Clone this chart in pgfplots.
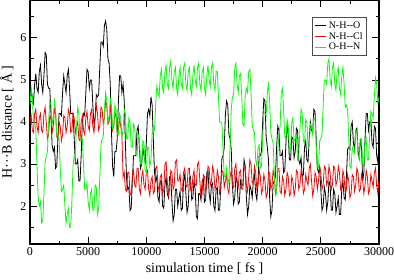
\documentclass[border=0pt]{standalone}
\usepackage{fontspec}
\setmainfont{Liberation Serif}
\usepackage{pgfplots}
\usepackage{pgfplotstable}
\pgfplotsset{compat=1.18}
\pgfplotstableread{
t b r g
0 4.3 4.0 4.4
100 4.75 4.15 4.8
200 4.6 3.8 4.6
300 4.45 3.75 4.0
400 4.9 4.2 4.0
500 5.15 4.3 3.8
600 4.8 3.9 3.0
700 4.7 3.75 2.2
800 5.2 4.1 2.0
900 5.35 4.2 2.1
1000 4.9 3.8 1.6
1100 4.7 3.75 1.65
1200 5.1 4.2 2.3
1300 5.65 4.35 3.05
1400 5.6 4.0 3.2
1500 4.9 3.6 3.3
1600 4.8 3.7 4.0
1700 4.8 4.15 4.5
1800 4.2 4.1 4.4
1900 3.45 3.75 3.95
2000 3.3 3.9 4.1
2100 3.4 4.3 4.5
2200 2.9 4.2 4.3
2300 2.95 3.65 3.7
2400 3.6 3.6 3.7
2500 4.2 4.0 3.6
2600 4.2 3.9 2.9
2700 4.15 3.55 2.35
2800 4.7 3.7 2.4
2900 5.1 4.15 2.5
3000 4.9 4.1 2.0
3100 4.7 3.75 1.6
3200 5.1 3.9 1.8
3300 5.25 4.3 1.95
3400 4.8 4.2 1.5
3500 4.2 3.75 1.5
3600 4.2 3.8 2.1
3700 4.2 4.2 2.95
3800 3.6 4.1 3.2
3900 3.0 3.75 3.25
4000 3.0 3.9 3.9
4100 3.1 4.0 4.35
4200 2.6 3.6 4.2
4300 2.6 3.55 3.6
4400 3.2 4.0 3.6
4500 4.0 4.15 3.6
4600 4.2 3.8 3.0
4700 4.15 3.7 2.4
4800 4.7 4.1 2.4
4900 5.25 4.25 2.55
5000 5.2 3.9 2.1
5100 4.8 3.8 1.9
5200 5.0 4.2 2.3
5300 5.0 4.3 2.4
5400 4.4 3.9 1.9
5500 3.95 3.75 1.9
5600 4.1 4.1 2.5
5700 4.65 4.4 2.45
5800 4.6 4.2 1.8
5900 4.65 3.8 1.95
6000 5.3 3.9 2.7
6100 5.9 4.35 3.45
6200 5.9 4.3 3.6
6300 5.8 3.95 3.65
6400 6.3 4.1 4.3
6500 6.4 4.5 4.7
6600 6.2 4.4 4.5
6700 5.5 3.95 4.0
6800 5.4 4.0 4.1
6900 4.9 4.35 4.55
7000 3.8 4.2 4.4
7100 2.95 3.8 3.85
7200 2.7 3.9 3.9
7300 3.3 4.25 4.4
7400 3.3 4.1 4.3
7500 3.6 3.7 3.7
7600 4.5 3.8 3.7
7700 5.1 4.1 4.2
7800 5.1 3.9 4.1
7900 4.7 3.7 3.65
8000 4.9 2.7 3.8
8100 4.5 2.8 4.3
8200 3.5 2.4 4.2
8300 2.65 2.35 3.6
8400 2.4 2.8 3.6
8500 2.45 2.8 4.1
8600 1.9 2.3 4.0
8700 1.95 2.25 3.4
8800 2.6 2.7 3.4
8900 3.2 2.85 3.95
9000 3.2 2.5 3.9
9100 3.2 2.45 3.25
9200 3.8 2.9 3.2
9300 3.9 2.9 3.7
9400 3.4 2.4 3.6
9500 2.9 2.3 3.0
9600 3.0 2.7 3.0
9700 3.4 2.85 3.55
9800 3.2 2.5 3.5
9900 3.05 2.4 2.85
10000 3.5 2.8 2.8
10100 4.2 2.85 3.4
10200 4.3 2.4 3.4
10300 4.15 2.25 2.95
10400 4.6 2.6 3.1
10500 4.4 2.7 3.75
10600 3.6 2.3 3.8
10700 2.8 2.35 3.8
10800 2.6 2.9 4.4
10900 2.7 2.95 4.85
11000 2.2 2.5 4.7
11100 2.1 2.35 4.6
11200 2.6 2.7 5.1
11300 2.6 2.75 5.25
11400 2.0 2.3 4.8
11500 1.95 2.4 4.7
11600 2.5 3.0 5.2
11700 2.7 3.05 5.35
11800 2.3 2.6 4.9
11900 2.2 2.25 4.8
12000 2.7 2.4 5.3
12100 2.7 2.85 5.45
12200 2.1 2.8 5.0
12300 1.65 2.4 4.8
12400 1.8 2.5 5.2
12500 2.4 3.05 5.3
12600 2.4 3.1 4.8
12700 2.0 2.6 4.65
12800 2.2 2.6 5.1
12900 2.35 2.75 5.3
13000 1.9 2.4 4.9
13100 1.95 2.35 4.8
13200 2.6 2.8 5.3
13300 2.75 2.9 5.4
13400 2.3 2.5 4.9
13500 1.85 2.45 4.75
13600 2.0 2.9 5.2
13700 2.65 2.9 5.3
13800 2.7 2.4 4.8
13900 2.15 2.3 4.65
14000 2.2 2.7 5.1
14100 2.6 2.85 5.35
14200 2.4 2.5 5.0
14300 1.75 2.5 4.85
14400 1.7 3.0 5.3
14500 2.3 3.05 5.4
14600 2.3 2.6 4.9
14700 2.15 2.2 4.75
14800 2.6 2.3 5.2
14900 2.65 2.75 5.3
15000 2.1 2.7 4.8
15100 2.15 2.35 4.65
15200 2.8 2.5 5.1
15300 2.85 2.95 5.35
15400 2.3 2.9 5.0
15500 2.1 2.5 4.85
15600 2.5 2.6 5.3
15700 2.55 2.95 5.4
15800 2.0 2.8 4.9
15900 1.9 2.4 4.75
16000 2.4 2.5 5.2
16100 2.45 2.85 5.2
16200 1.9 2.7 4.6
16300 1.9 2.3 4.0
16400 2.5 2.4 4.0
16500 3.15 2.85 3.95
16600 3.2 2.8 3.3
16700 3.4 2.45 2.7
16800 4.2 2.6 2.7
16900 4.5 2.75 2.9
17000 4.4 2.4 2.5
17100 3.7 2.3 2.65
17200 3.6 2.7 3.4
17300 3.35 2.85 4.3
17400 2.5 2.5 4.6
17500 2.05 2.45 4.65
17600 2.2 2.9 5.3
17700 2.7 3.0 5.4
17800 2.6 2.6 4.9
17900 2.05 2.45 4.7
18000 2.1 2.8 5.1
18100 2.6 2.85 5.15
18200 2.5 2.4 4.6
18300 2.5 2.4 3.95
18400 3.1 2.9 3.9
18500 2.95 2.95 4.65
18600 2.2 2.5 4.8
18700 1.8 2.35 4.7
18800 2.0 2.7 5.2
18900 2.5 3.1 5.25
19000 2.4 3.0 4.7
19100 2.2 2.55 3.95
19200 2.6 2.6 3.8
19300 2.75 2.95 3.75
19400 2.3 2.8 3.1
19500 2.15 2.4 2.95
19600 2.6 2.5 3.4
19700 3.2 2.85 3.45
19800 3.2 2.7 2.9
19900 3.3 2.3 2.95
20000 4.0 2.4 3.6
20100 4.55 2.75 4.2
20200 4.5 2.6 4.2
20300 3.65 2.2 4.15
20400 3.4 2.3 4.7
20500 3.1 2.8 4.9
20600 2.2 2.8 4.5
20700 1.75 2.4 3.75
20800 1.9 2.5 3.6
20900 2.55 2.85 3.5
21000 2.6 2.7 2.8
21100 2.7 2.3 2.25
21200 3.4 2.4 2.3
21300 3.9 2.9 3.3
21400 3.8 2.9 3.7
21500 3.2 2.35 3.9
21600 3.2 2.3 4.7
21700 3.3 2.7 4.8
21800 2.8 2.6 4.3
21900 2.85 2.25 3.65
22000 3.5 2.4 3.6
22100 3.9 2.8 4.05
22200 3.7 2.7 3.9
22300 3.1 2.25 3.3
22400 3.1 2.3 3.3
22500 3.65 2.7 4.0
22600 3.6 2.6 4.1
22700 3.15 2.25 3.55
22800 3.3 2.4 3.6
22900 3.85 2.85 3.65
23000 3.8 2.8 3.1
23100 3.1 2.4 3.15
23200 3.0 2.5 3.8
23300 3.15 2.85 4.3
23400 2.7 2.7 4.2
23500 2.75 2.3 3.55
23600 3.4 2.4 3.5
23700 3.55 2.75 4.05
23800 3.1 2.6 4.0
23900 3.05 2.5 3.4
24000 3.6 2.9 3.4
24100 4.0 3.0 3.95
24200 3.8 2.6 3.9
24300 3.75 2.25 3.7
24400 4.3 2.4 4.1
24500 4.25 2.8 4.1
24600 3.6 2.7 3.5
24700 2.9 2.4 2.9
24800 2.8 2.6 2.9
24900 2.9 2.95 3.55
25000 2.4 2.8 3.6
25100 1.9 2.4 3.7
25200 2.0 2.5 4.4
25300 2.45 2.95 5.0
25400 2.3 2.9 5.0
25500 1.9 2.5 4.9
25600 2.1 2.6 5.4
25700 2.6 2.95 5.5
25800 2.5 2.8 5.0
25900 1.9 2.4 4.85
26000 1.9 2.5 5.3
26100 2.4 2.95 5.4
26200 2.3 2.9 4.9
26300 1.85 2.5 4.75
26400 2.0 2.6 5.2
26500 2.2 2.95 5.3
26600 1.8 2.8 4.8
26700 1.8 2.4 4.65
26800 2.4 2.5 5.1
26900 2.6 2.85 5.3
27000 2.2 2.7 4.9
27100 2.15 2.3 4.35
27200 2.7 2.4 4.4
27300 3.35 2.75 4.3
27400 3.4 2.6 3.6
27500 3.35 2.2 2.95
27600 3.9 2.3 2.9
27700 4.0 2.75 3.4
27800 3.5 2.7 3.3
27900 3.35 2.35 3.25
28000 3.8 2.5 3.8
28100 3.85 2.9 3.8
28200 3.3 2.8 3.2
28300 3.15 2.35 3.1
28400 3.6 2.4 3.6
28500 3.4 2.75 3.6
28600 2.6 2.6 3.0
28700 2.8 2.3 2.95
28800 3.6 2.5 3.5
28900 4.2 2.85 3.6
29000 4.2 2.7 3.1
29100 3.8 2.3 3.1
29200 4.0 2.4 3.7
29300 4.05 2.75 4.25
29400 3.5 2.6 4.2
29500 3.4 2.45 4.1
29600 3.9 2.8 4.6
29700 3.85 2.9 5.05
29800 3.2 2.5 4.9
29900 3.05 2.3 4.45
30000 3.5 2.6 4.6
}\datatable
\begin{document}
\begin{tikzpicture}
\path[use as bounding box] (-30pt,-35pt) rectangle (364pt,244pt);
\begin{axis}[
  at={(0,0)}, anchor=south west,
  scale only axis, width=349pt, height=244pt,
  xmin=0, xmax=30000, ymin=1.1, ymax=6.9,
  xtick={0,5000,...,30000}, minor xtick={2500,7500,...,27500},
  ytick={2,3,4,5,6}, minor ytick={1.5,2.5,...,6.5},
  tick align=inside, major tick length=7pt, minor tick length=3.5pt,
  every tick/.style={black, line width=0.8pt},
  axis line style={line width=1.2pt},
  scaled x ticks=false,
  xticklabel style={/pgf/number format/1000 sep={}, font=\fontsize{12}{12}\selectfont},
  yticklabel style={font=\fontsize{12}{12}\selectfont},
  /pgf/number format/assume math mode=true,
  xlabel={simulation time [ fs ]},
  ylabel={H···B distance [ Å ]},
  label style={font=\fontsize{14}{14}\selectfont},
  legend style={at={(0.966,0.93)}, anchor=north east, draw=black!70, line width=1pt,
    font=\fontsize{10}{10}\selectfont, row sep=-1.5pt, inner sep=2pt},
  legend cell align=left,
  legend image code/.code={\draw[#1, line width=1pt] (0pt,0pt) -- (11pt,0pt);},
]
\addplot[black, line width=0.8pt] table[x=t, y=b] {\datatable};
\addplot[red, line width=0.8pt] table[x=t, y=r] {\datatable};
\addplot[green, line width=0.8pt] table[x=t, y=g] {\datatable};
\legend{N-H-{}-O, N-H-{}-Cl, O-H-{}-N}
\end{axis}
\end{tikzpicture}
\end{document}
